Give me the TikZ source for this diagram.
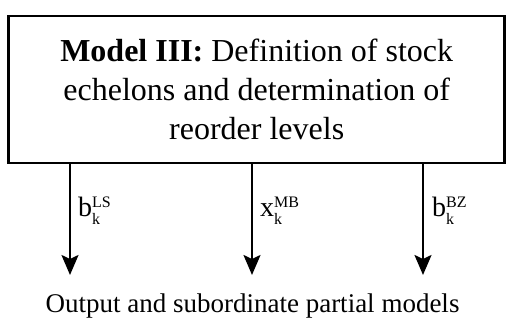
\documentclass[tikz,border=0pt]{standalone}
\usepackage{fontspec}
\setmainfont{Liberation Serif}
\usetikzlibrary{arrows.meta}

% variable with subscript and superscript set side by side
\newcommand{\outvar}[3]{#1\rlap{\raisebox{9pt}{\fontsize{16}{16}\selectfont #3}}\raisebox{-8pt}{\fontsize{16}{16}\selectfont #2}}

\begin{document}
\begin{tikzpicture}[
        x=1pt,
        y=1pt,
        >={Stealth[length=20pt,width=17pt,inset=4pt]},
        modelbox/.style={draw, line width=2.6pt, minimum width=496pt,
            minimum height=147pt, inner sep=0pt, align=center,
            font=\fontsize{32}{39}\selectfont},
        flow/.style={->, line width=2pt},
        varlabel/.style={anchor=base west, inner sep=0pt,
            font=\fontsize{28}{28}\selectfont}
    ]
    \useasboundingbox (0,0) rectangle (509,326);

    % Model box
    \node[modelbox] (model) at (256.7,236.5)
        {\textbf{Model III:} Definition of stock\\
         echelons and determination of\\
         reorder levels};

    % Arrow ends
    \coordinate (endLS) at (70,51);
    \coordinate (endMB) at (252,51);
    \coordinate (endBZ) at (423,51);

    \draw[flow] (model.south -| endLS) -- (endLS);
    \draw[flow] (model.south -| endMB) -- (endMB);
    \draw[flow] (model.south -| endBZ) -- (endBZ);

    % Variables
    \node[varlabel] (varLS) at (78,109) {\outvar{b}{k}{LS}};
    \node[varlabel] (varMB) at (260,109) {\outvar{x}{k}{MB}};
    \node[varlabel] (varBZ) at (432,109) {\outvar{b}{k}{BZ}};

    % Output
    \node[anchor=base, inner sep=0pt, font=\fontsize{27}{27}\selectfont]
        (output) at (252.5,13) {Output and subordinate partial models};

\end{tikzpicture}
\end{document}
